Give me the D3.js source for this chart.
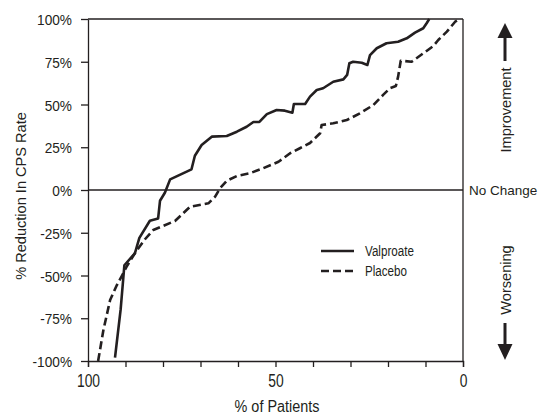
<!DOCTYPE html>
<html>
<head>
<meta charset="utf-8">
<script src="https://cdn.jsdelivr.net/npm/d3@7"></script>
<style>
  body { margin: 0; background: #fff; }
  svg text { font-family: "Liberation Sans", Arial, sans-serif; fill: #231f20; }
</style>
</head>
<body>
<svg id="chart" width="541" height="414"></svg>
<script>
// % of patients (x) and % reduction in CPS rate (y)
const valproateX = [92.8, 91.3, 90.3, 87.5, 86.3, 83.5, 81.3, 80.8, 79.5, 78.1, 72.4, 71.5, 69.7, 67, 63, 60.3, 57.7, 55.9, 54.3, 52.3, 49.7, 47.5, 45.5, 45.1, 42.1, 40.8, 39, 37.3, 34.6, 31.9, 30.9, 30.3, 29.3, 27, 25.5, 24.8, 23, 20.4, 17.3, 15, 12.8, 10.6, 9.7, 9];
const valproateY = [-98, -70, -44, -37, -28, -18, -16.6, -6.3, -1.6, 6.2, 12.1, 20, 26.3, 31.2, 31.6, 34.1, 37, 39.8, 39.8, 44.4, 46.8, 46.4, 45.2, 50.3, 50.3, 54.6, 58.5, 59.5, 63.3, 64.7, 67.3, 74.1, 75, 74.4, 73.1, 78.9, 82.9, 85.8, 86.7, 88.7, 92, 94.6, 97.5, 100];

const placeboX = [97.3, 95.9, 94.1, 92.3, 91, 89.7, 87.5, 84.8, 82.6, 79.9, 76.8, 72.8, 67.9, 66.1, 64.8, 63, 60.3, 56.8, 53.3, 49.2, 46.1, 43.5, 40.8, 38.1, 37.7, 34.6, 31, 27.5, 23.9, 21.3, 19.5, 17.9, 17.3, 16.6, 13.7, 10.6, 7.9, 6.6, 4.3, 2.1, 0.8];
const placeboY = [-100, -82, -64.3, -55.6, -50.3, -44.8, -37, -28.8, -23.4, -21, -18.1, -9.8, -7.8, -3.9, 1, 5.4, 8.2, 9.8, 12.7, 16.5, 21.5, 24.4, 27.5, 33.2, 38, 39, 40.9, 44.8, 49.7, 55.6, 59.5, 60.8, 66.3, 75.6, 75, 79.9, 84.2, 87.7, 92.6, 98.4, 100];

const xTicks = [100, 90, 80, 70, 60, 50, 40, 30, 20, 10, 0];
const xTickLabels = [100, 50, 0];
const yTicks = [-100, -75, -50, -25, 0, 25, 50, 75, 100];

const series = [
  { name: "Valproate", xs: valproateX, ys: valproateY, dash: null },
  { name: "Placebo", xs: placeboX, ys: placeboY, dash: "8,4" }
];

const ink = "#231f20";
const svg = d3.select("#chart");

// squeeze a text horizontally, the reference uses a condensed face
function condense(sel, k) {
  sel.each(function () {
    const w = this.getComputedTextLength();
    d3.select(this).attr("textLength", w * k).attr("lengthAdjust", "spacingAndGlyphs");
  });
  return sel;
}

const x = d3.scaleLinear().domain([100, 0]).range([88, 463]);
const y = d3.scaleLinear().domain([-100, 100]).range([361, 19]);

// axes
const xAxis = svg.append("g")
  .attr("transform", "translate(0," + y(-100) + ")")
  .call(d3.axisBottom(x).tickValues(xTicks).tickSize(6)
    .tickFormat(d => xTickLabels.includes(d) ? d : ""));
xAxis.select(".domain").attr("stroke", ink).attr("stroke-width", 1.3);
xAxis.selectAll(".tick line").attr("stroke", ink).attr("stroke-width", 1.3);
xAxis.selectAll(".tick text").attr("dy", 0).attr("y", 26)
  .style("font-size", "18px").attr("fill", ink);
condense(xAxis.selectAll(".tick text"), 0.77);

const yAxis = svg.append("g")
  .attr("transform", "translate(" + x(100) + ",0)")
  .call(d3.axisLeft(y).tickValues(yTicks).tickSize(7).tickSizeOuter(0)
    .tickFormat(d => d + "%"));
yAxis.select(".domain").attr("stroke", ink).attr("stroke-width", 1.3);
yAxis.selectAll(".tick line").attr("stroke", ink).attr("stroke-width", 1.3);
yAxis.selectAll(".tick text").attr("x", -16).attr("dy", "0.36em")
  .style("font-size", "15.5px").attr("fill", ink);
condense(yAxis.selectAll(".tick text"), 0.88);

// frame top and right, zero line
svg.append("line").attr("x1", x(100)).attr("x2", x(0)).attr("y1", y(100)).attr("y2", y(100))
  .attr("stroke", ink).attr("stroke-width", 1.3);
svg.append("line").attr("x1", x(0)).attr("x2", x(0)).attr("y1", y(100)).attr("y2", y(-100))
  .attr("stroke", ink).attr("stroke-width", 1.3);
svg.append("line").attr("x1", x(100)).attr("x2", x(0)).attr("y1", y(0)).attr("y2", y(0))
  .attr("stroke", ink).attr("stroke-width", 1.3);

// curves
const line = d3.line().x(d => x(d[0])).y(d => y(d[1]));
series.forEach(s => {
  svg.append("path")
    .datum(d3.zip(s.xs, s.ys))
    .attr("d", line)
    .attr("fill", "none")
    .attr("stroke", ink)
    .attr("stroke-width", 2.6)
    .attr("stroke-linejoin", "round")
    .attr("stroke-dasharray", s.dash);
});

// legend
const legend = svg.append("g").attr("transform", "translate(321,251)");
series.forEach((s, i) => {
  legend.append("line").attr("x1", 0).attr("x2", 33).attr("y1", i * 20).attr("y2", i * 20)
    .attr("stroke", ink).attr("stroke-width", 2.6).attr("stroke-dasharray", s.dash);
  const t = legend.append("text").attr("x", 44).attr("y", i * 20).attr("dy", "0.35em")
    .style("font-size", "14px").text(s.name);
  condense(t, 0.83);
});

// axis titles
condense(svg.append("text").attr("x", 277).attr("y", 412).attr("text-anchor", "middle")
  .style("font-size", "16px").text("% of Patients"), 0.9);
condense(svg.append("text").attr("transform", "translate(26,196) rotate(-90)").attr("text-anchor", "middle")
  .style("font-size", "15.5px").text("% Reduction In CPS Rate"), 0.94);

// right side annotations
svg.append("text").attr("x", 469).attr("y", y(0)).attr("dy", "0.35em")
  .style("font-size", "13.5px").text("No Change");
condense(svg.append("text").attr("transform", "translate(511,110) rotate(-90)").attr("text-anchor", "middle")
  .style("font-size", "15.5px").text("Improvement"), 0.94);
condense(svg.append("text").attr("transform", "translate(511,280) rotate(-90)").attr("text-anchor", "middle")
  .style("font-size", "15.5px").text("Worsening"), 0.94);

const arrowX = 505;
svg.append("line").attr("x1", arrowX).attr("x2", arrowX).attr("y1", 34).attr("y2", 61)
  .attr("stroke", ink).attr("stroke-width", 3);
svg.append("path").attr("d", d3.line()([[arrowX - 7.5, 38], [arrowX, 23], [arrowX + 7.5, 38]])).attr("fill", ink);
svg.append("line").attr("x1", arrowX).attr("x2", arrowX).attr("y1", 323).attr("y2", 346)
  .attr("stroke", ink).attr("stroke-width", 3);
svg.append("path").attr("d", d3.line()([[arrowX - 7.5, 344], [arrowX, 360], [arrowX + 7.5, 344]])).attr("fill", ink);
</script>
</body>
</html>
